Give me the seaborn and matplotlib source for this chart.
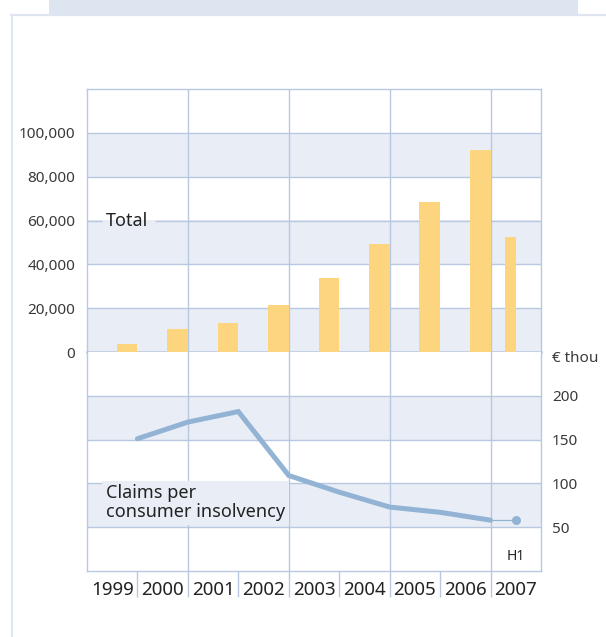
import matplotlib
matplotlib.use("Agg")
import matplotlib.pyplot as plt
from matplotlib.lines import Line2D
from matplotlib.patches import Rectangle
from matplotlib.ticker import FuncFormatter
import seaborn as sns

# --- data -------------------------------------------------------------
years = ["1999", "2000", "2001", "2002", "2003", "2004", "2005", "2006", "2007"]
total_claims = [3500, 10600, 13300, 21500, 33600, 49100, 68600, 92000, 52400]
claims_per_insolvency = [151, 170, 182, 109, 90, 73, 67, 58, 58]
upper_ticks = [0, 20000, 40000, 60000, 80000, 100000]
lower_ticks = [50, 100, 150, 200]

# --- styling ----------------------------------------------------------
sns.set_style("white")
plt.rcParams["font.family"] = ["Noto Sans", "DejaVu Sans"]

GRID = "#b8c8e1"
BAND = "#e9eef6"
BAR = "#fdd57e"
LINE = "#93b3d4"
TEXT = "#222222"
TICK = "#3a3a3a"

W, H = 606, 637
fig = plt.figure(figsize=(W / 100, H / 100), dpi=100)


def fx(px):
    return px / W


def fy(py):
    return 1 - py / H


# page decoration: header strip and frame
fig.add_artist(Rectangle((fx(49), fy(14)), fx(578 - 49), 14 / H,
                         transform=fig.transFigure, color="#dde5f0", lw=0))
fig.add_artist(Line2D([fx(11), fx(606)], [fy(15), fy(15)],
                      transform=fig.transFigure, color="#dfe6f1", lw=1.6))
fig.add_artist(Line2D([fx(12), fx(12)], [fy(15), fy(637)],
                      transform=fig.transFigure, color="#dfe6f1", lw=1.6))

left, right = 87, 541
top, mid, bottom = 89, 352, 571
ax1 = fig.add_axes([fx(left), fy(mid), fx(right - left), (mid - top) / H])
ax2 = fig.add_axes([fx(left), fy(bottom), fx(right - left), (bottom - mid) / H],
                   sharex=ax1)

n = len(years)
for ax in (ax1, ax2):
    ax.set_xlim(0, n)
    ax.set_facecolor("white")
    for s in ax.spines.values():
        s.set_color(GRID)
        s.set_linewidth(1.0)
    for xv in range(2, n, 2):
        ax.axvline(xv, color=GRID, lw=1.0, zorder=1)

# upper panel: alternating bands
ax1.set_ylim(0, 120000)
for lo in (0, 40000, 80000):
    ax1.axhspan(lo, lo + 20000, color=BAND, lw=0, zorder=0)
for yv in (20000, 40000, 80000, 100000):
    ax1.axhline(yv, color=GRID, lw=1.0, zorder=1)
# 60,000 line is broken around the "Total" caption
ax1.hlines(60000, 0, 0.30, color=GRID, lw=1.0, zorder=1)
ax1.hlines(60000, 1.35, n, color=GRID, lw=1.0, zorder=1)
ax1.spines["bottom"].set_linewidth(1.8)

# lower panel bands
ax2.set_ylim(0, 250)
for lo in (50, 150):
    ax2.axhspan(lo, lo + 50, color=BAND, lw=0, zorder=0)
for yv in (50, 100, 150, 200):
    ax2.axhline(yv, color=GRID, lw=1.0, zorder=1)
ax2.spines["top"].set_visible(False)

# bars: full years sit at the right of their column, H1 2007 is a half bar
bar_right = [i + 1 for i in range(n - 1)] + [n - 0.5]
bar_width = [0.41] * (n - 1) + [0.21]
ax1.bar(bar_right, total_claims, width=[-w for w in bar_width], align="edge",
        color=BAR, lw=0, zorder=3)

# line: claims per consumer insolvency
line_x = [i + 1 for i in range(n - 1)] + [n - 0.5]
sns.lineplot(x=line_x[:-1], y=claims_per_insolvency[:-1], ax=ax2, color=LINE,
             lw=3.6, zorder=4, solid_joinstyle="miter")
sns.lineplot(x=line_x[-2:], y=claims_per_insolvency[-2:], ax=ax2, color=LINE,
             lw=0.9, zorder=4)
ax2.plot(line_x[-1], claims_per_insolvency[-1], "o", color=LINE, ms=6.5,
         mec="none", zorder=5)

# ticks and labels
ax1.set_yticks(upper_ticks)
ax1.yaxis.set_major_formatter(FuncFormatter(lambda v, p: f"{int(v):,}"))
ax1.tick_params(axis="y", length=0, pad=8.5, labelsize=11, labelcolor=TICK)
ax1.tick_params(axis="x", which="both", length=0, labelbottom=False)

ax2.set_yticks(lower_ticks)
ax2.yaxis.tick_right()
ax2.tick_params(axis="y", length=0, pad=8, labelsize=11, labelcolor=TICK)
ax2.set_xticks([i + 0.5 for i in range(n)])
ax2.set_xticklabels(years)
ax2.set_xticks(list(range(1, n)), minor=True)
ax2.tick_params(axis="x", which="major", bottom=True, length=0, pad=7,
                labelsize=13.5, labelcolor=TEXT)
ax2.tick_params(axis="x", which="minor", bottom=True, length=19, width=1.0,
                color=GRID, direction="out")
ax1.set_xlabel("")
ax2.set_xlabel("")
ax2.set_ylabel("")

# captions
ax1.text(0.376, 60000, "Total", fontsize=13, color=TEXT, va="center",
         ha="left", zorder=6)
ax2.text(0.376, 78, "Claims per\nconsumer insolvency", fontsize=13,
         color=TEXT, va="center", ha="left", linespacing=1.05, zorder=6,
         bbox=dict(boxstyle="square,pad=0.2", fc=BAND, ec="none"))
ax2.text(n - 0.5, 17, "H1", fontsize=10, color=TEXT, ha="center",
         va="center", zorder=6)
ax2.text(1 + 11 / (right - left), (bottom - 359) / (bottom - mid), "€ thou",
         transform=ax2.transAxes, fontsize=11, color=TICK, ha="left",
         va="center")

fig.savefig("out.png", dpi=100)
